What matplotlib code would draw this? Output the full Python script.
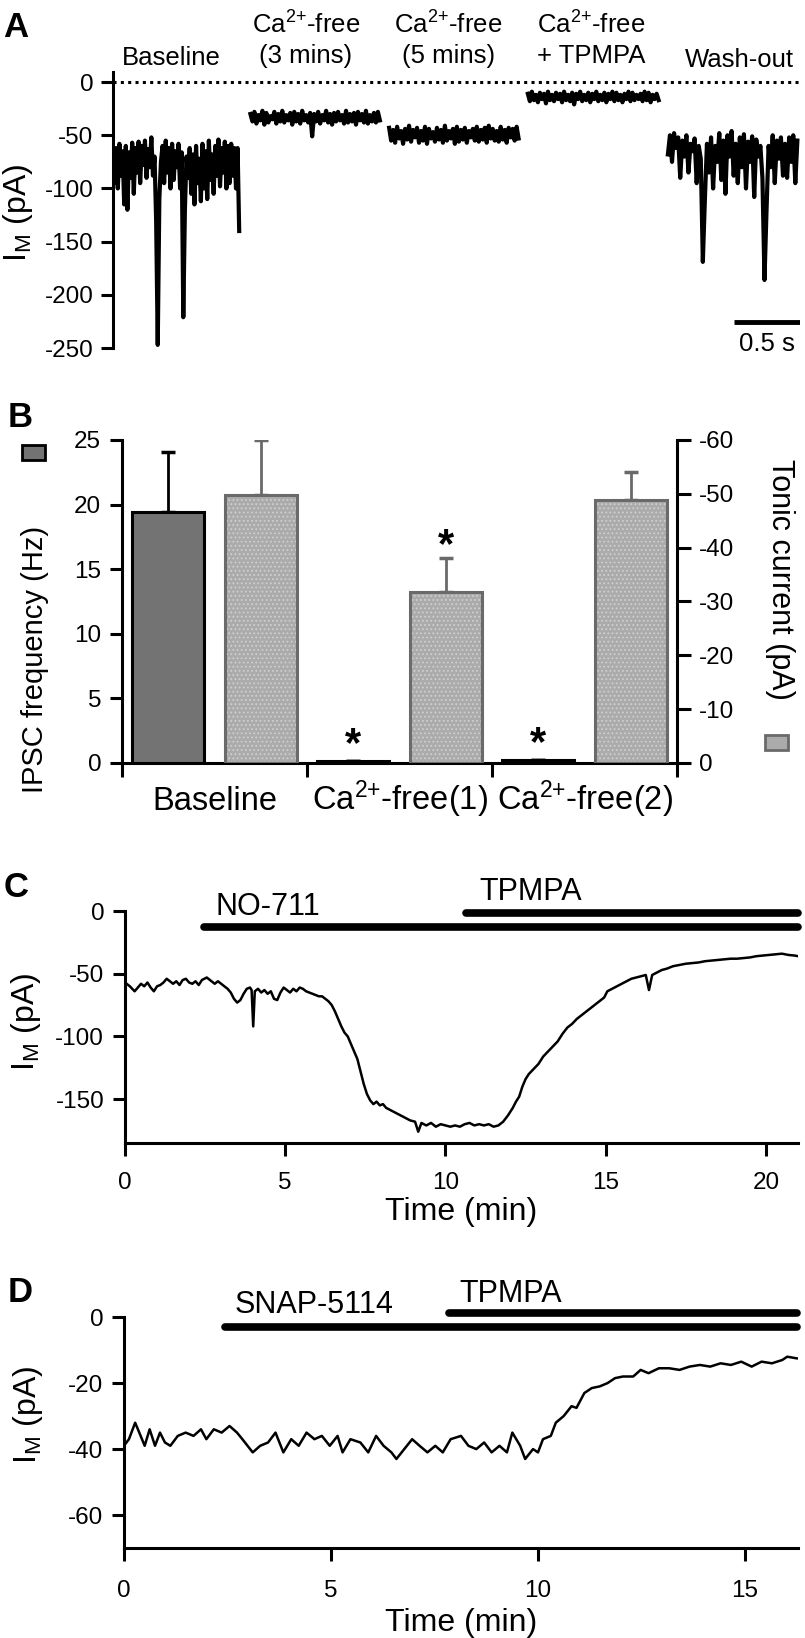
import numpy as np
import matplotlib
matplotlib.use('Agg')
import matplotlib.pyplot as plt
from matplotlib.patches import Rectangle
import matplotlib.transforms as mtransforms

plt.rcParams['font.family'] = ['Liberation Sans', 'DejaVu Sans']
plt.rcParams['mathtext.fontset'] = 'custom'
plt.rcParams['mathtext.rm'] = 'Liberation Sans'
plt.rcParams['mathtext.it'] = 'Liberation Sans:italic'
plt.rcParams['mathtext.bf'] = 'Liberation Sans:bold'
plt.rcParams['axes.unicode_minus'] = False
plt.rcParams['hatch.linewidth'] = 0.8

# ---- panel A : example traces (pA), one list per condition ----
a_labels = ['Baseline', 'Ca 3 mins', 'Ca 5 mins', 'Ca + TPMPA', 'Wash-out']
a_start = [0.0, 1.04, 2.09, 3.14, 4.20]   # s
a_end = [0.955, 2.02, 3.07, 4.13, 5.18]
a_baseline = [-70, -95, -62, -100, -58, -88, -65, -115, -60, -120, -66, -90, -57, -105, -62, -85,
              -56, -95, -60, -78, -55, -90, -63, -80, -52, -88, -70, -130, -247, -110, -75, -60,
              -95, -55, -85, -62, -100, -58, -92, -65, -80, -58, -100, -66, -221, -120, -70, -90,
              -62, -105, -68, -115, -60, -95, -72, -112, -58, -100, -65, -110, -55, -92, -68, -105,
              -60, -88, -54, -98, -62, -85, -56, -100, -60, -95, -58, -88, -62, -100, -62, -140]
a_ca3 = [-30, -37, -28, -39, -31, -36, -27, -40, -29, -38, -32, -35, -28, -39, -30, -37, -27, -38,
         -31, -36, -29, -40, -28, -37, -30, -39, -27, -36, -31, -38, -29, -51, -30, -37, -28, -39,
         -31, -36, -27, -38, -30, -40, -29, -37, -28, -36, -31, -39, -27, -38, -30, -37, -29, -40,
         -28, -36, -30, -38, -27, -39, -31, -37, -29, -38, -28, -36]
a_ca5 = [-43, -55, -45, -57, -42, -53, -46, -58, -44, -54, -41, -56, -45, -52, -43, -57, -46, -55,
         -42, -58, -44, -53, -47, -56, -43, -54, -45, -57, -41, -55, -46, -53, -44, -58, -42, -56,
         -45, -54, -43, -57, -46, -52, -44, -55, -42, -56, -45, -54, -43, -57, -41, -53, -44, -55,
         -46, -56, -42, -54, -45, -57, -43, -52, -44, -55, -42, -53]
a_tpmpa = [-11, -18, -9, -17, -12, -19, -10, -16, -11, -20, -9, -17, -12, -18, -10, -16, -11, -19,
           -9, -17, -12, -18, -10, -21, -11, -16, -9, -18, -12, -17, -10, -19, -11, -16, -9, -18,
           -12, -17, -10, -19, -11, -16, -9, -18, -10, -17, -12, -19, -11, -16, -9, -18, -10, -17,
           -12, -16, -11, -18, -9, -17, -10, -19, -12, -16, -11, -17]
a_wash = [-68, -50, -75, -48, -62, -52, -90, -55, -70, -50, -85, -58, -65, -53, -95, -60, -72, -169,
          -110, -58, -85, -52, -100, -60, -75, -48, -92, -55, -105, -50, -70, -46, -88, -58, -95, -52,
          -80, -49, -100, -56, -75, -51, -108, -54, -70, -60, -90, -186, -120, -60, -80, -50, -95, -55,
          -72, -52, -88, -58, -90, -52, -75, -50, -95, -55]
a_traces = [a_baseline, a_ca3, a_ca5, a_tpmpa, a_wash]

# ---- panel B : mean +- sem ----
b_groups = ['Baseline', 'Ca$^{2{+}}$-free(1)', 'Ca$^{2{+}}$-free(2)']
ipsc_mean = [19.4, 0.15, 0.2]      # Hz
ipsc_err = [4.7, 0.0, 0.0]
tonic_mean = [-49.8, -31.8, -48.9]  # pA
tonic_err = [10.2, 6.3, 5.2]
ipsc_sig = [False, True, True]
tonic_sig = [False, True, False]

# ---- panel C : NO-711 then TPMPA ----
c_time = [0.0, 0.15, 0.3, 0.4, 0.5, 0.6, 0.7, 0.8, 0.9, 1.0, 1.1, 1.2, 1.3, 1.4, 1.5, 1.6, 1.7, 1.8,
          1.9, 2.0, 2.1, 2.2, 2.3, 2.4, 2.55, 2.7, 2.8, 2.9, 3.0, 3.1, 3.2, 3.3, 3.4, 3.5, 3.6, 3.7,
          3.8, 3.9, 3.95, 4.0, 4.05, 4.15, 4.25, 4.35, 4.45, 4.55, 4.65, 4.75, 4.85, 4.95, 5.05, 5.15,
          5.25, 5.35, 5.45, 5.55, 5.65, 5.75, 5.85, 5.95, 6.05, 6.15, 6.25, 6.35, 6.45, 6.55, 6.65,
          6.75, 6.85, 6.95, 7.05, 7.15, 7.25, 7.35, 7.45, 7.55, 7.65, 7.75, 7.85, 7.95, 8.05, 8.15,
          8.3, 8.45, 8.6, 8.75, 8.9, 9.05, 9.15, 9.25, 9.4, 9.55, 9.7, 9.85, 10.0, 10.15, 10.3, 10.45,
          10.6, 10.75, 10.9, 11.05, 11.2, 11.35, 11.5, 11.65, 11.8, 11.95, 12.1, 12.2, 12.3, 12.4,
          12.5, 12.6, 12.75, 12.9, 13.05, 13.2, 13.35, 13.5, 13.65, 13.8, 13.95, 14.1, 14.25, 14.4,
          14.55, 14.7, 14.85, 14.95, 15.05, 15.2, 15.35, 15.5, 15.65, 15.8, 15.95, 16.1, 16.25, 16.35,
          16.45, 16.6, 16.75, 16.9, 17.1, 17.3, 17.5, 17.7, 17.9, 18.1, 18.3, 18.5, 18.7, 18.9, 19.1,
          19.3, 19.5, 19.7, 19.9, 20.1, 20.3, 20.5, 20.7, 20.9, 21.0]
c_current = [-57, -60, -64, -61, -58, -60, -57, -61, -64, -60, -59, -57, -54, -56, -58, -56, -59, -55,
             -54, -57, -58, -56, -59, -55, -53, -56, -58, -56, -58, -60, -62, -65, -70, -73, -71, -66,
             -62, -61, -63, -92, -64, -62, -65, -63, -66, -64, -70, -71, -65, -61, -63, -65,
             -62, -64, -61, -62, -64, -65, -66, -67, -68, -68, -70, -72, -75, -80, -86,
             -92, -97, -100, -106, -112, -118, -128, -138, -146, -151, -154, -152, -155, -154, -157,
             -159, -161, -163, -165, -167, -168, -176, -169, -171, -169, -172, -170, -171, -172, -171, -172,
             -170, -169, -171, -170, -171, -170, -172, -171, -168, -163, -157, -152, -148, -140,
             -134, -130, -126, -122, -116, -112, -108, -104, -98, -93, -90, -86, -83, -80,
             -77, -74, -71, -69, -64, -62, -60, -58, -56, -54, -53, -52, -51, -63,
             -51, -49, -47, -46, -44, -43, -42, -41.5, -41, -40, -39.5, -39, -38.5, -38, -38,
             -37.5, -37, -36, -35.5, -35, -34.5, -34, -35, -35.5, -36]
c_drugs = ['NO-711', 'TPMPA']
c_drug_on = [2.46, 10.65]
c_drug_off = [21.0, 21.0]

# ---- panel D : SNAP-5114 then TPMPA ----
d_time = [0.0, 0.12, 0.27, 0.37, 0.5, 0.62, 0.75, 0.87, 0.99, 1.12, 1.3, 1.49, 1.68, 1.86, 1.99, 2.17,
          2.36, 2.55, 2.73, 2.86, 3.11, 3.29, 3.48, 3.66, 3.85, 4.04, 4.22, 4.41, 4.6, 4.78, 4.97, 5.16,
          5.28, 5.47, 5.71, 5.9, 6.09, 6.27, 6.46, 6.58, 6.77, 6.96, 7.14, 7.33, 7.52, 7.7, 7.89, 8.14,
          8.32, 8.51, 8.7, 8.88, 9.07, 9.25, 9.38, 9.57, 9.69, 9.88, 10.0, 10.12, 10.31, 10.43, 10.62,
          10.81, 10.93, 11.12, 11.3, 11.49, 11.68, 11.86, 12.05, 12.3, 12.48, 12.67, 12.92, 13.17,
          13.42, 13.66, 13.91, 14.16, 14.41, 14.66, 14.91, 15.16, 15.4, 15.65, 15.9, 16.02, 16.25]
d_current = [-39, -37, -32, -35, -39, -34, -39, -35, -38, -39, -36, -35, -36, -34, -37, -34,
             -35, -33, -35, -37, -41, -39, -38, -35, -41, -37, -39, -35, -37, -36, -39, -36,
             -41, -37, -38, -41, -36, -39, -41, -43, -40, -37, -39, -41, -39, -41, -37, -36,
             -39, -40, -38, -41, -39, -41, -35, -39, -43, -40, -41, -37, -36, -32, -30,
             -27, -27.5, -23, -21.5, -21, -20, -18.5, -18, -18, -16, -17, -15.5, -15.5,
             -16, -15, -14.5, -15, -14, -14.5, -13.5, -15, -13.5, -14, -13, -12, -12.5]
d_drugs = ['SNAP-5114', 'TPMPA']
d_drug_on = [2.45, 7.84]
d_drug_off = [16.25, 16.25]

TICK = 17.5
SPINE = 2.2

fig = plt.figure(figsize=(8.05, 16.38), dpi=100)


def style_axis(ax, spines):
    for s in ['left', 'right', 'top', 'bottom']:
        ax.spines[s].set_visible(s in spines)
        ax.spines[s].set_linewidth(SPINE)
    ax.tick_params(width=SPINE, length=9, labelsize=TICK, color='k')


# ================= A =================
axA = fig.add_axes([0.1404, 0.7875, 0.8534, 0.1685])
for vals, t0, t1 in zip(a_traces, a_start, a_end):
    t = np.linspace(t0, t1, len(vals))
    axA.plot(t, vals, color='k', lw=3.0, solid_joinstyle='round')
axA.plot([0, 5.2], [0, 0], color='k', lw=2.2, ls=(0, (1, 1.4)))
axA.set_xlim(0, 5.2)
axA.set_ylim(-250, 9.4)
axA.set_yticks([0, -50, -100, -150, -200, -250])
axA.set_xticks([])
style_axis(axA, ['left'])
axA.tick_params(axis='y', pad=5)
axA.set_ylabel('I$_{\\mathrm{M}}$ (pA)', fontsize=23, va='center')
axA.yaxis.set_label_coords(-0.138, 0.49)
axA.text(0.44, 16, 'Baseline', fontsize=18.5, ha='center', va='baseline')
axA.text(4.74, 14, 'Wash-out', fontsize=18.5, ha='center', va='baseline')
for x, second in zip([1.46, 2.54, 3.62], ['(3 mins)', '(5 mins)', '+ TPMPA']):
    axA.text(x, 46, 'Ca$^{2{+}}$-free', fontsize=18.5, ha='center', va='baseline', clip_on=False)
    axA.text(x, 18, second, fontsize=18.5, ha='center', va='baseline', clip_on=False)
axA.plot([4.7, 5.2], [-225.6, -225.6], color='k', lw=3.5, solid_capstyle='butt')
axA.text(4.95, -253, '0.5 s', fontsize=18.5, ha='center', va='baseline')

# ================= B =================
axB = fig.add_axes([0.1516, 0.5342, 0.6894, 0.1972])
axB2 = axB.twinx()
xi = np.arange(len(b_groups)) * 2
xt = xi + 1
bw = 0.78
axB.bar(xi, ipsc_mean, bw, color='#737373', edgecolor='k', lw=2.2, zorder=3)
axB.errorbar(xi, ipsc_mean, yerr=[np.zeros(3), ipsc_err], fmt='none', ecolor='k',
             elinewidth=2, capsize=5, capthick=2.5, zorder=2)
axB2.bar(xt, tonic_mean, bw, color='#ababab', hatch='....', edgecolor='#cfcfcf', lw=0, zorder=3)
axB2.bar(xt, tonic_mean, bw, fill=False, edgecolor='#6a6a6a', lw=2.2, zorder=4)
axB2.errorbar(xt, tonic_mean, yerr=[tonic_err, np.zeros(3)], fmt='none', ecolor='#6a6a6a',
              elinewidth=2, capsize=5, capthick=2.5, zorder=2)
axB.set_xlim(-0.5, 5.5)
axB.set_ylim(0, 25)
axB2.set_ylim(0, -60)
axB.set_yticks([0, 5, 10, 15, 20, 25])
axB2.set_yticks([0, -10, -20, -30, -40, -50, -60])
axB.set_xticks([-0.5, 1.5, 3.5, 5.5])
axB.set_xticklabels([])
style_axis(axB, ['left', 'bottom'])
style_axis(axB2, ['right'])
axB.tick_params(axis='x', length=10)
axB.tick_params(axis='y', pad=6)
axB2.tick_params(axis='y', length=10, pad=6)
bt = mtransforms.blended_transform_factory(axB.transData, axB.transAxes)
for x, name in zip(xi + 0.5, b_groups):
    axB.text(x, -0.1455, name, transform=bt, fontsize=23.5, ha='center', va='baseline')
for x, m, e, s in zip(xi, ipsc_mean, ipsc_err, ipsc_sig):
    if s:
        axB.text(x, m + e + 0.4, '*', fontsize=30, fontweight='bold', ha='center', va='baseline')
for x, m, e, s in zip(xt, tonic_mean, tonic_err, tonic_sig):
    if s:
        axB2.text(x, m - e - 0.2, '*', fontsize=30, fontweight='bold', ha='center', va='baseline')
axB.set_ylabel('IPSC frequency (Hz)', fontsize=21, va='center')
axB.yaxis.set_label_coords(-0.157, 0.32)
axB2.set_ylabel('Tonic current (pA)', fontsize=22, va='center', rotation=270)
axB2.yaxis.set_label_coords(1.186, 0.567)
fig.add_artist(Rectangle((22 / 805, 1 - 460 / 1638), 23 / 805, 15 / 1638, transform=fig.transFigure,
                         facecolor='#737373', edgecolor='k', lw=2))
fig.add_artist(Rectangle((765 / 805, 1 - 750 / 1638), 23 / 805, 15 / 1638, transform=fig.transFigure,
                         facecolor='#ababab', edgecolor='#6a6a6a', lw=2))


# ================= C / D =================
def drug_panel(rect, t, y, drugs, on, off, bar_y, txt_pos, ylim, yticks, xticks, xmax):
    ax = fig.add_axes(rect)
    ax.plot(t, y, color='k', lw=1.8)
    for d, a, b, by, (tx, ty) in zip(drugs, on, off, bar_y, txt_pos):
        ax.plot([a, b], [by, by], color='k', lw=5.5, solid_capstyle='round', clip_on=False)
        ax.text(tx, ty, d, fontsize=22, ha='left', va='baseline')
    ax.set_xlim(0, xmax)
    ax.set_ylim(*ylim)
    ax.set_yticks(yticks)
    ax.set_xticks(xticks)
    style_axis(ax, ['left', 'bottom'])
    ax.tick_params(axis='y', pad=6)
    ax.tick_params(axis='x', pad=12)
    ax.set_xlabel('Time (min)', fontsize=23, labelpad=2)
    ax.set_ylabel('I$_{\\mathrm{M}}$ (pA)', fontsize=23, va='center')
    return ax


axC = drug_panel([0.1553, 0.3022, 0.8360, 0.1416], c_time, c_current, c_drugs, c_drug_on, c_drug_off,
                 [-12.8, -1.6], [(2.81, -3.2), (11.07, 8.8)], (-185, 0), [0, -50, -100, -150],
                 [0, 5, 10, 15, 20], 21.0)
axC.yaxis.set_label_coords(-0.147, 0.52)
axD = drug_panel([0.1540, 0.0549, 0.8373, 0.1410], d_time, d_current, d_drugs, d_drug_on, d_drug_off,
                 [-3.0, 1.2], [(2.68, 1.2), (8.09, 4.5)], (-70, 0), [0, -20, -40, -60],
                 [0, 5, 10, 15], 16.28)
axD.yaxis.set_label_coords(-0.142, 0.576)
axD.tick_params(axis='x', pad=14)
axD.xaxis.labelpad = 4

for lab, x, y in [('A', 0.004, 0.983), ('B', 0.010, 0.745), ('C', 0.004, 0.458), ('D', 0.010, 0.211)]:
    fig.text(x, y, lab, fontsize=25, fontweight='bold', ha='left', va='center')

fig.savefig('out.png', dpi=100)
